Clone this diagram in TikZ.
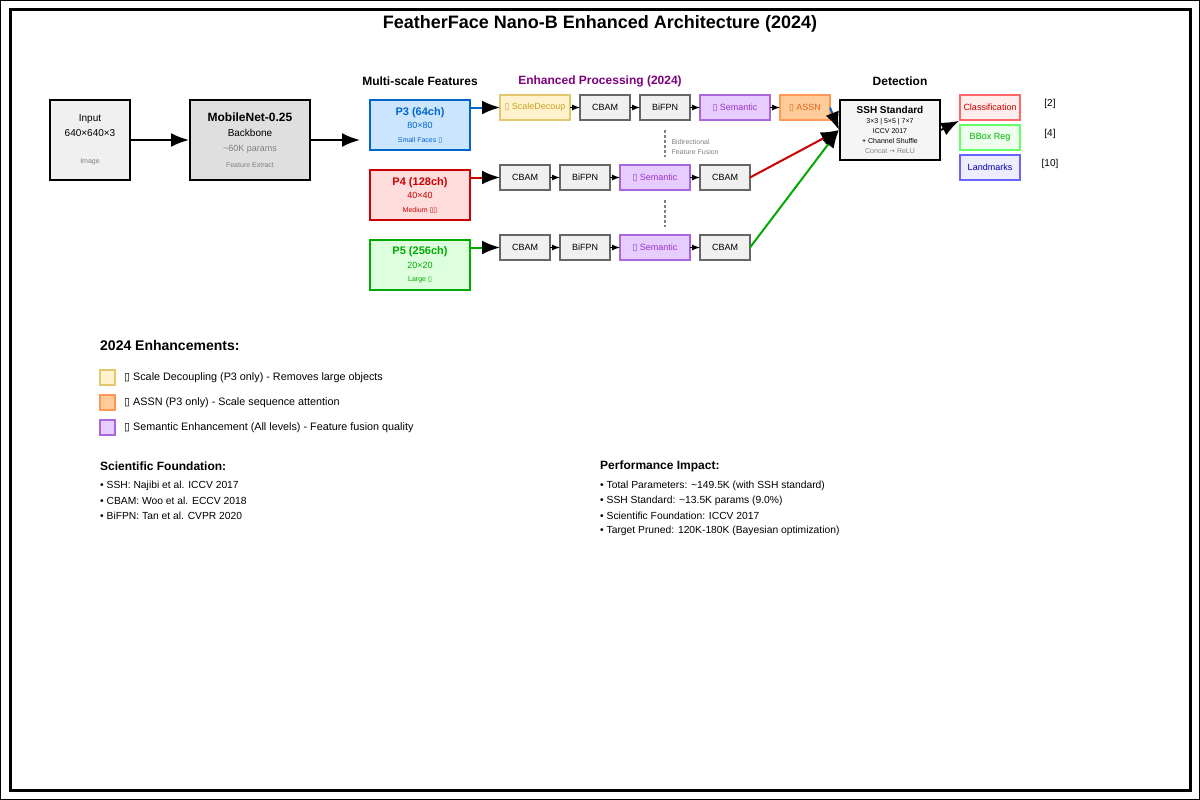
\documentclass[tikz,border=0pt]{standalone}
\usepackage{fontspec}
\setmainfont{Liberation Sans}
\newfontfamily\symfont{DejaVu Sans}
\usepackage{xcolor}
\usetikzlibrary{arrows.meta,positioning}
\newcommand{\tofu}{{\symfont\char"25AF}}
\newcommand{\fsz}[1]{\fontsize{#1}{#1}\selectfont}
\definecolor{pthreeblue}{HTML}{0066CC}
\definecolor{pthreefill}{HTML}{CCE5FF}
\definecolor{pfourred}{HTML}{CC0000}
\definecolor{pfourfill}{HTML}{FFDDDD}
\definecolor{pfivegreen}{HTML}{00AA00}
\definecolor{pfivefill}{HTML}{DDFFDD}
\definecolor{decfill}{HTML}{FFF2CC}
\definecolor{decdraw}{HTML}{E3C76E}
\definecolor{dectext}{HTML}{C9A227}
\definecolor{semfill}{HTML}{E6CCFF}
\definecolor{semdraw}{HTML}{AA66DD}
\definecolor{semtext}{HTML}{9933CC}
\definecolor{assnfill}{HTML}{FFCC99}
\definecolor{assndraw}{HTML}{FF9955}
\definecolor{assntext}{HTML}{DD6622}
\definecolor{procpurple}{HTML}{800080}
\definecolor{stagegray}{HTML}{666666}

\begin{document}
\begin{tikzpicture}[x=1pt,y=-1pt,
  block/.style={draw,line width=2pt,inner sep=0pt,align=center},
  featbox/.style={draw,line width=2pt,minimum width=100pt,minimum height=50pt,inner sep=0pt,align=center,font=\fontsize{9}{13.5}\selectfont},
  stage/.style={draw=stagegray,fill=gray!12,line width=1.5pt,minimum width=50pt,minimum height=25pt,inner sep=0pt,outer sep=0pt,font=\fsz{9}},
  outbox/.style={draw,line width=1.5pt,minimum width=60pt,minimum height=25pt,inner sep=0pt,font=\fsz{9}},
  head/.style={font=\fsz{12}\bfseries},
  bigarrow/.style={line width=2pt,-{Latex[length=18pt,width=14pt,color=black]}},
  smallarrow/.style={line width=1pt,-{Latex[length=8pt,width=6pt]}},
  legendsq/.style={draw,line width=1.2pt,minimum size=15pt,inner sep=0pt},
  note/.style={anchor=west,inner sep=0pt,font=\fsz{10.3}},
  fusion/.style={gray,line width=1.5pt,dash pattern=on 3pt off 2pt}]
  \useasboundingbox (0,0) rectangle (1200,800);
  % frame
  \draw[line width=0.8pt] (0.5,0.5) rectangle (1199.5,799.5);
  \draw[line width=3pt] (10,10) rectangle (1190,790);
  \node[font=\fsz{18}\bfseries] (title) at (600,24) {FeatherFace Nano-B Enhanced Architecture (2024)};

  % column headings
  \node[head] (msf) at (420,81) {Multi-scale Features};
  \node[head,text=procpurple] (proc) at (600,81) {Enhanced Processing (2024)};
  \node[head] (det) at (900,81) {Detection};

  % input and backbone
  \node[block,fill=gray!12,minimum width=80pt,minimum height=80pt,font=\fontsize{10}{15}\selectfont] (input) at (90,140)
    {Input\\640×640×3\\[12pt]{\color{gray}\fsz{7}Image}};
  \node[block,fill=gray!25,minimum width=120pt,minimum height=80pt,font=\fontsize{10}{15.3}\selectfont] (backbone) at (250,140)
    {{\bfseries\fsz{12}MobileNet-0.25}\\Backbone\\{\color{gray}\fsz{9}\textasciitilde60K params}\\{\color{gray}\fsz{7}Feature Extract}};
  \draw[bigarrow] (input) -- (backbone);

  % feature levels
  \node[featbox,draw=pthreeblue,fill=pthreefill,text=pthreeblue] (pthree) at (420,125)
    {{\bfseries\fsz{11}P3 (64ch)}\\80×80\\{\fsz{7}Small Faces \tofu}};
  \node[featbox,draw=pfourred,fill=pfourfill,text=pfourred] (pfour) at (420,195)
    {{\bfseries\fsz{11}P4 (128ch)}\\40×40\\{\fsz{7}Medium \tofu\tofu}};
  \node[featbox,draw=pfivegreen,fill=pfivefill,text=pfivegreen] (pfive) at (420,265)
    {{\bfseries\fsz{11}P5 (256ch)}\\20×20\\{\fsz{7}Large \tofu}};
  \coordinate (bbout) at (360,140);
  \draw[bigarrow] (backbone) -- (bbout);

  % P3 branch
  \node[stage,fill=decfill,draw=decdraw,text=dectext,minimum width=70pt] (decoup) at (535,107.5) {\tofu\ ScaleDecoup};
  \node[stage,right=10pt of decoup] (cbamthree) {CBAM};
  \node[stage,right=10pt of cbamthree] (bifpnthree) {BiFPN};
  \node[stage,fill=semfill,draw=semdraw,text=semtext,minimum width=70pt,right=10pt of bifpnthree] (semthree) {\tofu\ Semantic};
  \node[stage,fill=assnfill,draw=assndraw,text=assntext,right=10pt of semthree] (assn) {\tofu\ ASSN};
  % P4 branch
  \node[stage] (cbamfour) at (525,177.5) {CBAM};
  \node[stage,right=10pt of cbamfour] (bifpnfour) {BiFPN};
  \node[stage,fill=semfill,draw=semdraw,text=semtext,minimum width=70pt,right=10pt of bifpnfour] (semfour) {\tofu\ Semantic};
  \node[stage,right=10pt of semfour] (cbamfourb) {CBAM};
  % P5 branch
  \node[stage] (cbamfive) at (525,247.5) {CBAM};
  \node[stage,right=10pt of cbamfive] (bifpnfive) {BiFPN};
  \node[stage,fill=semfill,draw=semdraw,text=semtext,minimum width=70pt,right=10pt of bifpnfive] (semfive) {\tofu\ Semantic};
  \node[stage,right=10pt of semfive] (cbamfiveb) {CBAM};

  \draw[bigarrow,pthreeblue] (pthree.east |- decoup) -- (decoup);
  \draw[bigarrow,pfourred] (pfour.east |- cbamfour) -- (cbamfour);
  \draw[bigarrow,pfivegreen] (pfive.east |- cbamfive) -- (cbamfive);
  \draw[smallarrow] (decoup) -- (cbamthree);
  \draw[smallarrow] (cbamthree) -- (bifpnthree);
  \draw[smallarrow] (bifpnthree) -- (semthree);
  \draw[smallarrow] (semthree) -- (assn);
  \draw[smallarrow] (cbamfour) -- (bifpnfour);
  \draw[smallarrow] (bifpnfour) -- (semfour);
  \draw[smallarrow] (semfour) -- (cbamfourb);
  \draw[smallarrow] (cbamfive) -- (bifpnfive);
  \draw[smallarrow] (bifpnfive) -- (semfive);
  \draw[smallarrow] (semfive) -- (cbamfiveb);

  % bidirectional fusion marks
  \coordinate (fusetop) at (665,130);
  \coordinate (fusebot) at (665,157);
  \draw[fusion] (fusetop) -- (fusebot);
  \node[anchor=west,gray,align=left,font=\fontsize{7}{10}\selectfont] (fusetxt) at (668,147) {Bidirectional\\Feature Fusion};
  \coordinate (fusetopb) at (665,200);
  \coordinate (fusebotb) at (665,227);
  \draw[fusion] (fusetopb) -- (fusebotb);

  % detection head
  \node[block,fill=gray!8,minimum width=100pt,minimum height=60pt,font=\fontsize{7}{10}\selectfont] (ssh) at (890,130)
    {{\bfseries\fsz{10}SSH Standard}\\3×3 | 5×5 | 7×7\\ICCV 2017\\+ Channel Shuffle\\{\color{gray}Concat {\symfont→} ReLU}};
  \draw[bigarrow,pthreeblue] (assn.east) -- (ssh.west);
  \draw[bigarrow,pfourred] (cbamfourb.east) -- (ssh.west);
  \draw[bigarrow,pfivegreen] (cbamfiveb.east) -- (ssh.west);

  \node[outbox,draw=red!60,fill=red!7,text=red!80!black] (cls) at (990,107.5) {Classification};
  \node[outbox,draw=green!60!white,fill=green!7,text=green!70!black] (bbox) at (990,137.5) {BBox Reg};
  \node[outbox,draw=blue!60,fill=blue!7,text=blue!70!black] (lmk) at (990,167.5) {Landmarks};
  \draw[bigarrow] (ssh.east) -- (cls.south west);
  \node[font=\fsz{10}] (clsdim) at (1050,104) {[2]};
  \node[font=\fsz{10}] (bboxdim) at (1050,134) {[4]};
  \node[font=\fsz{10}] (lmkdim) at (1050,164) {[10]};

  % legend
  \node[anchor=west,inner sep=0pt,font=\fsz{14}\bfseries] (legtitle) at (100,345) {2024 Enhancements:};
  \foreach \fillc/\drawc/\txt [count=\i] in {decfill/decdraw/{Scale Decoupling (P3 only) - Removes large objects},
      assnfill/assndraw/{ASSN (P3 only) - Scale sequence attention},
      semfill/semdraw/{Semantic Enhancement (All levels) - Feature fusion quality}} {
    \node[legendsq,fill=\fillc,draw=\drawc] (leg\i) at (107.5,352.5+25*\i) {};
    \node[anchor=west,inner sep=0pt,font=\fsz{10.8}] (legtxt\i) at (124,353+25*\i) {\tofu\ \txt};
  }

  % references and numbers
  \node[anchor=west,inner sep=0pt,font=\fsz{12}\bfseries] (scihead) at (100,466) {Scientific Foundation:};
  \foreach \txt [count=\i] in {SSH: Najibi et al. ICCV 2017,CBAM: Woo et al. ECCV 2018,BiFPN: Tan et al. CVPR 2020}
    \node[note] (sci\i) at (100,471+15*\i) {• \txt};
  \node[anchor=west,inner sep=0pt,font=\fsz{12}\bfseries] (perfhead) at (600,466) {Performance Impact:};
  \foreach \txt [count=\i] in {Total Parameters: \textasciitilde149.5K (with SSH standard),
      SSH Standard: \textasciitilde13.5K params (9.0\%),
      Scientific Foundation: ICCV 2017,
      Target Pruned: 120K-180K (Bayesian optimization)}
    \node[note] (perf\i) at (600,471+15*\i) {• \txt};
\end{tikzpicture}
\end{document}
